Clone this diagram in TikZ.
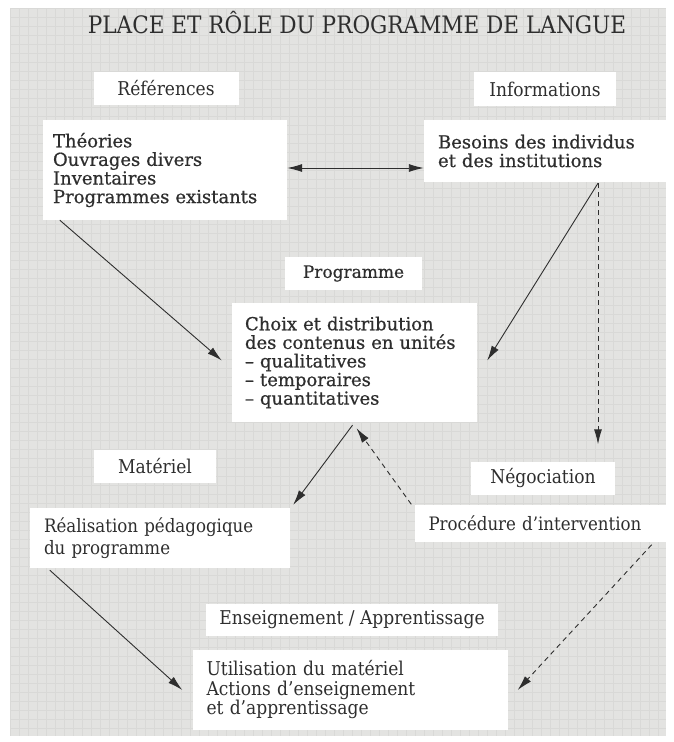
\documentclass[tikz,border=0pt]{standalone}
\usepackage{fontspec}
\setmainfont{DejaVu Serif}
\newfontfamily\condfont{DejaVu Serif Condensed}
\newfontfamily\heavyfont{DejaVu Serif}[RawFeature={embolden=0.6}]
\usetikzlibrary{arrows.meta,calc}
\definecolor{bg}{HTML}{E3E3E1}
\definecolor{gridc}{HTML}{D9D9D7}
\definecolor{ink}{HTML}{2E2E2E}
\tikzset{
  hdr/.style={fill=white, text=ink, font=\condfont\fontsize{19}{22}\selectfont, inner sep=0pt, align=center},
  boxx/.style={fill=white, text=ink, font=\heavyfont\fontsize{18}{18.6}\selectfont, inner xsep=10pt, inner ysep=0pt, align=left},
  lowbox/.style={fill=white, text=ink, font=\condfont\fontsize{18.5}{22}\selectfont, inner xsep=14pt, inner ysep=0pt, align=left},
  tip/.tip={Latex[length=15pt,width=8pt]},
  arr/.style={draw=ink, line width=0.9pt, -tip},
  darr/.style={arr, dash pattern=on 5pt off 4pt},
}
\begin{document}
\begin{tikzpicture}[x=1pt,y=-1pt]
\useasboundingbox (0,0) rectangle (673,742);
\fill[white] (0,0) rectangle (673,742);
\fill[bg] (10,8) rectangle (666,736);
\foreach \i in {0,...,72} {
  \draw[gridc, line width=0.5pt] ({10+9*\i},8) -- ({10+9*\i},736);
}
\foreach \j in {0,...,80} {
  \draw[gridc, line width=0.5pt] (10,{8+9*\j}) -- (666,{8+9*\j});
}
\node[text=ink, font=\condfont\fontsize{24}{28}\selectfont] (title) at (357,23) {PLACE ET RÔLE DU PROGRAMME DE LANGUE};

\node[hdr, minimum width=145, minimum height=33] (ref) at (166,88) {Références};
\node[hdr, minimum width=142, minimum height=34] (info) at (545,89) {Informations};

\node[boxx, minimum width=244, minimum height=100, text width=224] (theo) at (165,170) {Théories\\Ouvrages divers\\Inventaires\\Programmes existants};
\node[boxx, minimum width=246, minimum height=62, text width=218, inner xsep=14pt] (besoins) at (547,151) {Besoins des individus\\et des institutions};

\node[hdr, minimum width=137, minimum height=33, font=\heavyfont\fontsize{17}{19}\selectfont] (prog) at (353.5,273.5) {Programme};
\node[boxx, minimum width=245, minimum height=119, text width=219, inner xsep=13pt] (choix) at (354.5,362.5) {Choix et distribution\\des contenus en unités\\– qualitatives\\– temporaires\\– quantitatives};

\node[hdr, minimum width=122, minimum height=33] (mat) at (155,466) {Matériel};
\node[hdr, minimum width=144, minimum height=33] (nego) at (543,478) {Négociation};

\node[lowbox, minimum width=260, minimum height=60, text width=232] (real) at (160,538) {Réalisation pédagogique\\du programme};
\node[lowbox, minimum width=255, minimum height=37, text width=227] (proc) at (542,523) {Procédure d’intervention};

\node[hdr, minimum width=292, minimum height=32] (ens) at (352,620) {Enseignement / Apprentissage};
\node[lowbox, minimum width=315, minimum height=80, text width=287, font=\condfont\fontsize{19}{19.5}\selectfont] (util) at (350,690) {Utilisation du matériel\\Actions d’enseignement\\et d’apprentissage};

% connector end points
\coordinate (dl) at ($(theo.east)+(0,-2)$);
\coordinate (dr) at (besoins.west |- dl);
\coordinate (t1) at ($(theo.south west)+(17,0)$);
\coordinate (t2) at ($(choix.west)+(-10,-2)$);
\coordinate (b1) at ($(besoins.south)+(51,1)$);
\coordinate (b2) at ($(choix.east)+(10,-2)$);
\coordinate (b3) at ($(nego.north)+(55,-17)$);
\coordinate (c1) at ($(choix.south)+(-2,3)$);
\coordinate (c2) at ($(real.north east)+(3,-3)$);
\coordinate (p1) at ($(proc.north west)+(-3,0)$);
\coordinate (p2) at ($(choix.south)+(2,6)$);
\coordinate (r1) at ($(real.south west)+(20,2)$);
\coordinate (r2) at ($(util.west)+(-10,0)$);
\coordinate (q1) at ($(proc.south east)+(-18,3)$);
\coordinate (q2) at ($(util.east)+(10,0)$);

\draw[arr, tip-tip] (dl) -- (dr);
\draw[arr] (t1) -- (t2);
\draw[arr] (b1) -- (b2);
\draw[darr] (b1) -- (b3);
\draw[arr] (c1) -- (c2);
\draw[darr] (p1) -- (p2);
\draw[arr] (r1) -- (r2);
\draw[darr] (q1) -- (q2);
\end{tikzpicture}
\end{document}
